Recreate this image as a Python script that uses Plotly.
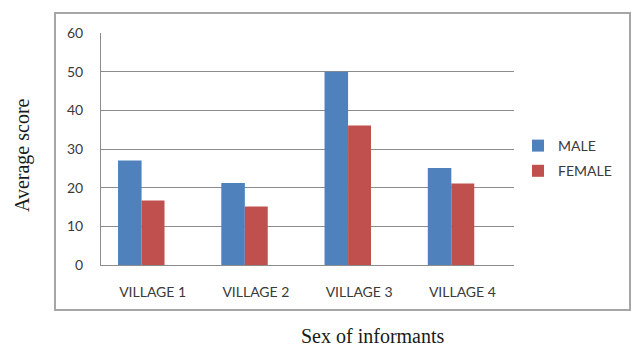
import plotly.graph_objects as go

categories = ["VILLAGE 1", "VILLAGE 2", "VILLAGE 3", "VILLAGE 4"]
male = [27, 21.2, 50, 25.1]
female = [16.7, 15.1, 36.1, 21.1]
y_ticks = [0, 10, 20, 30, 40, 50, 60]

W, H = 631, 347
L, R, T, B = 101, 514, 33, 265  # plot area in px


def px_x(p):
    return (p - L) / (R - L)


def px_y(p):
    return (B - p) / (B - T)


tick_font = dict(family="Lato, Open Sans, sans-serif", size=14, color="#3a3a3a")
title_font = dict(family="Liberation Serif, Times New Roman, serif", size=20, color="#1a1a1a")

fig = go.Figure()
fig.add_trace(go.Bar(x=categories, y=male, name="MALE", marker_color="#4F81BD",
                     width=0.228, offset=-0.335, legendgroup="m",
                     marker_line_width=0))
fig.add_trace(go.Bar(x=categories, y=female, name="FEMALE", marker_color="#C0504D",
                     width=0.222, offset=-0.107, legendgroup="f",
                     marker_line_width=0))

fig.update_layout(
    width=W, height=H,
    margin=dict(l=L, r=W - R, t=T, b=H - B),
    paper_bgcolor="white", plot_bgcolor="white",
    barmode="overlay",
    showlegend=True,
    legend=dict(x=px_x(518), y=px_y(130), xanchor="left", yanchor="top",
                font=tick_font, tracegroupgap=4, bgcolor="rgba(0,0,0,0)",
                itemwidth=30),
    xaxis=dict(range=[-0.5, 3.5], showgrid=False, showline=True,
               linecolor="#8c8c8c", linewidth=1, ticks="", tickfont=tick_font,
               ticklabelstandoff=14, fixedrange=True),
    yaxis=dict(range=[0, 60], tickvals=y_ticks, showgrid=True,
               gridcolor="#8c8c8c", gridwidth=1, showline=True,
               linecolor="#8c8c8c", linewidth=1, ticks="", tickfont=tick_font,
               ticklabelstandoff=14, zeroline=False),
    shapes=[dict(type="rect", xref="paper", yref="paper",
                 x0=px_x(55), x1=px_x(630), y0=px_y(310), y1=px_y(13),
                 line=dict(color="#a6a6a6", width=2), fillcolor="rgba(0,0,0,0)",
                 layer="below")],
    annotations=[
        dict(text="Average score", xref="paper", yref="paper",
             x=px_x(22), y=px_y(155), textangle=-90, showarrow=False,
             xanchor="center", yanchor="middle", font=title_font),
        dict(text="Sex of informants", xref="paper", yref="paper",
             x=px_x(373), y=px_y(336), showarrow=False,
             xanchor="center", yanchor="middle", font=title_font),
    ],
)

fig.write_html("out.html")
